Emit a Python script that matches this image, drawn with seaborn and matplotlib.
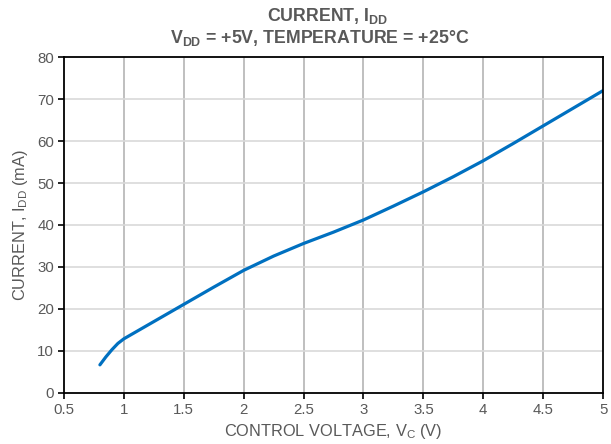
import numpy as np
import pandas as pd
import seaborn as sns
import matplotlib.pyplot as plt

# values
control_voltage = [0.8, 0.85, 0.9, 0.95, 1.0, 1.25, 1.5, 1.75, 2.0, 2.25, 2.5,
                   2.75, 3.0, 3.25, 3.5, 3.75, 4.0, 4.25, 4.5, 4.75, 5.0]
current_ma = [6.7, 8.6, 10.3, 11.8, 12.9, 17.0, 21.1, 25.2, 29.2, 32.6, 35.6,
              38.3, 41.2, 44.5, 47.9, 51.5, 55.3, 59.4, 63.6, 67.8, 72.0]

x_ticks = [0.5, 1, 1.5, 2, 2.5, 3, 3.5, 4, 4.5, 5]
x_tick_labels = ['0.5', '1', '1.5', '2', '2.5', '3', '3.5', '4', '4.5', '5']
y_ticks = [0, 10, 20, 30, 40, 50, 60, 70, 80]

df = pd.DataFrame({'vc': control_voltage, 'idd': current_ma})

sns.set_style('white')
plt.rcParams['font.family'] = ['Liberation Sans', 'DejaVu Sans']
plt.rcParams['mathtext.default'] = 'regular'

grey = '#595959'
fig = plt.figure(figsize=(6.11, 4.44), dpi=100)
ax = fig.add_axes([0.1047, 0.1149, 0.987 - 0.1047, 0.8716 - 0.1149])

sns.lineplot(data=df, x='vc', y='idd', ax=ax, color='#0070C0', linewidth=2.3,
             solid_capstyle='round')

ax.set_xlim(0.5, 5)
ax.set_ylim(0, 80)
ax.set_xticks(x_ticks)
ax.set_xticklabels(x_tick_labels)
ax.set_yticks(y_ticks)

# vertical grid darker than the horizontal one
for xv in x_ticks[1:-1]:
    ax.axvline(xv, color='#b4b4b4', linewidth=1.2, zorder=0)
for yv in y_ticks[1:-1]:
    ax.axhline(yv, color='#d9d9d9', linewidth=1.2, zorder=0)

for s in ax.spines.values():
    s.set_color('black')
    s.set_linewidth(1.3)

ax.tick_params(axis='both', which='major', direction='out', length=4, width=1.2,
               color='black', labelsize=10.8, labelcolor=grey, pad=3,
               left=True, bottom=True)

ax.set_xlabel('CONTROL VOLTAGE, V$_{C}$ (V)', fontsize=11.8, color=grey, labelpad=4)
ax.set_ylabel('CURRENT, I$_{DD}$ (mA)', fontsize=11.8, color=grey, labelpad=5)

fig.text(0.537, 0.964, 'CURRENT, I$_{DD}$', ha='center', va='center',
         fontsize=12.8, fontweight='bold', color=grey)
fig.text(0.524, 0.915, 'V$_{DD}$ = +5V, TEMPERATURE = +25°C', ha='center',
         va='center', fontsize=12.8, fontweight='bold', color=grey)

fig.savefig('out.png', dpi=100)
